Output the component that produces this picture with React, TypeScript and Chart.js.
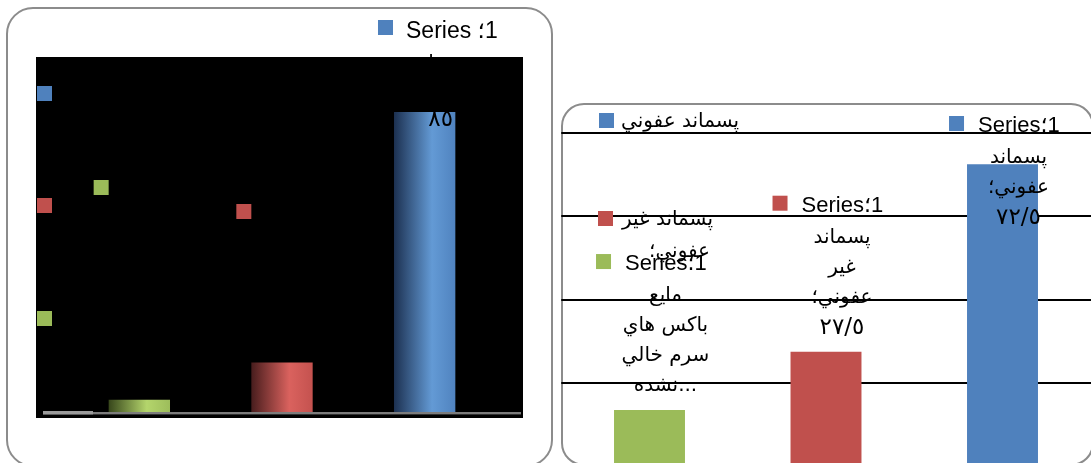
import React, { useEffect, useRef } from "react";
import { Chart, registerables } from "chart.js";
Chart.register(...registerables);

// ---- data ----
const categories = ["مايع باكس هاي سرم خالي نشده", "پسماند غير عفوني", "پسماند عفوني"];
const seriesName = "Series 1";
const leftValues = [3.5, 14, 85];
const rightValues = [13.5, 27.5, 72.5];
const barColors = ["#9bbb59", "#c0504d", "#4f81bd"];
const gradientStops = [
  ["#37461b", "#b4d56c", "#9dbd5b"],
  ["#481d1d", "#da625e", "#c4524f"],
  ["#1c3050", "#639ad5", "#5083bf"],
];
const gridValues = [20, 40, 60, 80];
const leftLabelLines = [["پسماند", "عفوني؛", "٨٥"]];
const rightLabelLines = [
  ["مايع", "باكس هاي", "سرم خالي", "نشده..."],
  ["پسماند", "غير", "عفوني؛", "٢٧/٥"],
  ["پسماند", "عفوني؛", "٧٢/٥"],
];
const legendEntries = [["پسماند عفوني"], ["پسماند غير", "عفوني؛"]];
const seriesRunsLeft = ["Series ", "؛", "1"];
const seriesRunsRight = ["Series", "؛", "1"];

const FONT_LATIN = '"Liberation Sans", "DejaVu Sans", sans-serif';
const FONT_AR = '"DejaVu Sans", sans-serif';
const W = 1091;
const H = 463;

function isNumberLine(t: string) {
  return /^[\u0660-\u0669\u06F0-\u06F9\/]+$/.test(t);
}

function drawRuns(ctx: CanvasRenderingContext2D, runs: string[], x: number, base: number, size: number) {
  ctx.font = `${size}px ${FONT_LATIN}`;
  ctx.textAlign = "left";
  ctx.textBaseline = "alphabetic";
  ctx.direction = "ltr";
  let cx = x;
  for (const r of runs) {
    ctx.fillText(r, cx, base);
    cx += ctx.measureText(r).width;
  }
}

function drawArLine(ctx: CanvasRenderingContext2D, t: string, x: number, y: number) {
  ctx.font = isNumberLine(t) ? `23px ${FONT_AR}` : `20px ${FONT_AR}`;
  ctx.textAlign = "center";
  ctx.textBaseline = "middle";
  ctx.direction = "ltr";
  ctx.fillText(t, x, y);
}

const leftPlugin = {
  id: "leftDeco",
  beforeDraw(chart: any) {
    const ctx = chart.ctx as CanvasRenderingContext2D;
    ctx.save();
    ctx.strokeStyle = "#8c8c8c";
    ctx.lineWidth = 2;
    ctx.beginPath();
    (ctx as any).roundRect(7, 8, 545, 458, 26);
    ctx.stroke();
    ctx.fillStyle = "#000";
    ctx.fillRect(36, 57, 487, 361);
    const order = [2, 1, 0];
    const ys = [86, 198, 311];
    order.forEach((ci, k) => {
      ctx.fillStyle = barColors[ci];
      ctx.fillRect(37, ys[k], 15, 15);
    });
    ctx.restore();
  },
  beforeDatasetsDraw(chart: any) {
    const ctx = chart.ctx as CanvasRenderingContext2D;
    const area = chart.chartArea;
    ctx.save();
    ctx.fillStyle = "#7c7c7c";
    ctx.fillRect(43, area.bottom, 478, 2.4);
    ctx.fillStyle = "#9a9a9a";
    ctx.fillRect(43, area.bottom - 1, 50, 3.4);
    ctx.restore();
  },
  afterDatasetsDraw(chart: any) {
    const ctx = chart.ctx as CanvasRenderingContext2D;
    const meta = chart.getDatasetMeta(0);
    ctx.save();
    const markerY = [180, 204];
    markerY.forEach((my, i) => {
      const p = meta.data[i].getProps(["x", "width"], true);
      ctx.fillStyle = barColors[i];
      ctx.fillRect(p.x - p.width / 2 - 15, my, 15, 15);
    });
    const i = 2;
    const p = meta.data[i].getProps(["x", "y", "width"], true);
    const lines = leftLabelLines[0];
    const base = Math.max(p.y - 24 - 26 - 28 * (lines.length - 1), 38);
    const left = p.x - p.width / 2;
    ctx.fillStyle = barColors[i];
    ctx.fillRect(left - 16, base - 18, 15, 15);
    ctx.fillStyle = "#000";
    drawRuns(ctx, seriesRunsLeft, left + 12, base, 23);
    lines.forEach((t, k) => drawArLine(ctx, t, p.x + 16, base + 26 + 28 * k));
    ctx.restore();
  },
};

const rightPlugin = {
  id: "rightDeco",
  beforeDraw(chart: any) {
    const ctx = chart.ctx as CanvasRenderingContext2D;
    ctx.save();
    ctx.strokeStyle = "#8c8c8c";
    ctx.lineWidth = 2;
    ctx.beginPath();
    (ctx as any).roundRect(562, 104, 531, 361, 22);
    ctx.stroke();
    ctx.restore();
  },
  beforeDatasetsDraw(chart: any) {
    const ctx = chart.ctx as CanvasRenderingContext2D;
    const area = chart.chartArea;
    const y = chart.scales.y;
    ctx.save();
    ctx.strokeStyle = "#000";
    ctx.lineWidth = 2;
    gridValues.forEach((v) => {
      const py = Math.round(y.getPixelForValue(v));
      ctx.beginPath();
      ctx.moveTo(area.left, py);
      ctx.lineTo(area.right + 2, py);
      ctx.stroke();
    });
    ctx.restore();
  },
  afterDatasetsDraw(chart: any) {
    const ctx = chart.ctx as CanvasRenderingContext2D;
    const meta = chart.getDatasetMeta(0);
    ctx.save();
    meta.data.forEach((bar: any, i: number) => {
      const p = bar.getProps(["x", "y", "width"], true);
      const lines = rightLabelLines[i];
      const base = Math.max(p.y - 24 - 26 - 30 * (lines.length - 1), 132);
      const left = p.x - p.width / 2;
      ctx.fillStyle = barColors[i];
      ctx.fillRect(left - 18, base - 16, 15, 15);
      ctx.fillStyle = "#000";
      drawRuns(ctx, seriesRunsRight, left + 11, base, 22);
      lines.forEach((t, k) => drawArLine(ctx, t, p.x + 16, base + 26 + 30 * k));
    });
    const legendColorIdx = [2, 1];
    const legendPos = [
      { sx: 599, sy: 113, tx: 621, ty: 122 },
      { sx: 598, sy: 211, tx: 622, ty: 220 },
    ];
    legendEntries.forEach((lines, k) => {
      const lp = legendPos[k];
      ctx.fillStyle = barColors[legendColorIdx[k]];
      ctx.fillRect(lp.sx, lp.sy, 15, 15);
      ctx.fillStyle = "#000";
      ctx.font = `20px ${FONT_AR}`;
      ctx.textBaseline = "middle";
      ctx.direction = "ltr";
      ctx.textAlign = "left";
      ctx.fillText(lines[0], lp.tx, lp.ty);
      const w0 = ctx.measureText(lines[0]).width;
      ctx.textAlign = "right";
      for (let j = 1; j < lines.length; j++) {
        ctx.fillText(lines[j], lp.tx + w0 - 3, lp.ty + 32 * j);
      }
    });
    ctx.restore();
  },
};

function makeGradient(c: any) {
  const chart = c.chart;
  const area = chart.chartArea;
  const i = c.dataIndex;
  if (!area || i === undefined || !chart.scales.x) return barColors[i ?? 0];
  const cx = chart.scales.x.getPixelForValue(i);
  const w = ((area.right - area.left) / categories.length) * 0.43;
  const g = chart.ctx.createLinearGradient(cx - w / 2, 0, cx + w / 2, 0);
  const s = gradientStops[i];
  g.addColorStop(0, s[0]);
  g.addColorStop(0.62, s[1]);
  g.addColorStop(1, s[2]);
  return g;
}

export default function App() {
  const leftRef = useRef<HTMLCanvasElement>(null);
  const rightRef = useRef<HTMLCanvasElement>(null);

  useEffect(() => {
    const left = new Chart(leftRef.current!, {
      type: "bar",
      data: {
        labels: categories,
        datasets: [
          {
            label: seriesName,
            data: leftValues,
            backgroundColor: makeGradient as any,
            borderWidth: 0,
            barPercentage: 0.43,
            categoryPercentage: 1,
          },
        ],
      },
      options: {
        responsive: false,
        animation: false,
        layout: { padding: { left: 68, right: W - 496, top: 59, bottom: H - 412 } },
        plugins: { legend: { display: false }, tooltip: { enabled: false } },
        scales: {
          x: { display: false },
          y: { display: false, min: 0, max: 100 },
        },
      },
      plugins: [leftPlugin],
    });
    const RH = 520;
    const right = new Chart(rightRef.current!, {
      type: "bar",
      data: {
        labels: categories,
        datasets: [
          {
            label: seriesName,
            data: rightValues,
            backgroundColor: barColors,
            borderWidth: 0,
            barPercentage: 0.402,
            categoryPercentage: 1,
          },
        ],
      },
      options: {
        responsive: false,
        animation: false,
        layout: { padding: { left: 561.25, right: W - 1090.75, top: 49.6, bottom: RH - 466.3 } },
        plugins: { legend: { display: false }, tooltip: { enabled: false } },
        scales: {
          x: { display: false },
          y: { display: false, min: 0, max: 100 },
        },
      },
      plugins: [rightPlugin],
    });
    return () => {
      left.destroy();
      right.destroy();
    };
  }, []);

  return (
    <div
      style={{
        position: "absolute",
        left: 0,
        top: 0,
        width: W,
        height: H,
        overflow: "hidden",
        background: "#fff",
      }}
    >
      <canvas
        ref={leftRef}
        width={W}
        height={H}
        style={{ position: "absolute", left: 0, top: 0, width: W, height: H }}
      />
      <canvas
        ref={rightRef}
        width={W}
        height={520}
        style={{ position: "absolute", left: 0, top: 0, width: W, height: 520 }}
      />
    </div>
  );
}
